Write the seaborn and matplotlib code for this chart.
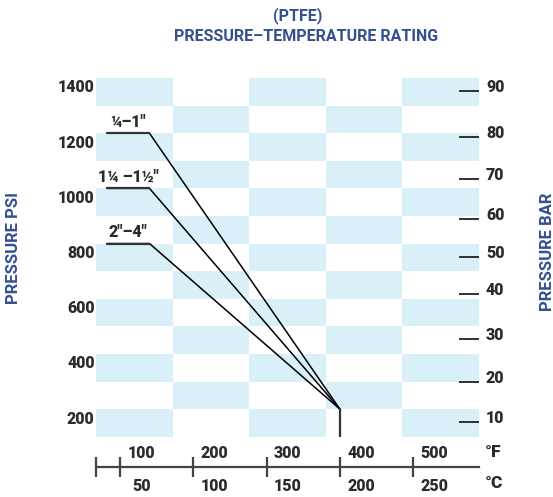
import numpy as np
import pandas as pd
import matplotlib
matplotlib.use('Agg')
import matplotlib.pyplot as plt
import matplotlib.transforms as mtransforms
from matplotlib.colors import ListedColormap
import seaborn as sns

# ratings per valve size, all lines meet at 200 C / 200 psi
sizes = ['\u00bc\u20131\u2033', '1\u00bc \u20131\u00bd\u2033', '2\u2033\u20134\u2033']
rated_psi = [1200, 1000, 800]
flat_temp = [41, 70]   # flat part of each line (C)
end_temp = 200
end_psi = 200

psi_ticks = [200, 400, 600, 800, 1000, 1200, 1400]
bar_labels = ['10', '20', '30', '40', '50', '60', '70', '80', '90']
bar_ticks_psi = [155, 300, 455, 618, 752, 889, 1034, 1187, 1354]
temp_ticks_c = [50, 100, 150, 200, 250]
temp_labels_c = ['50', '100', '150', '200', '250']
temp_labels_f = ['100', '200', '300', '400', '500']

rows = []
for s, p in zip(sizes, rated_psi):
    rows.append({'size': s, 'temp': flat_temp[0], 'psi': p})
    rows.append({'size': s, 'temp': flat_temp[1], 'psi': p})
    rows.append({'size': s, 'temp': end_temp, 'psi': end_psi})
df = pd.DataFrame(rows)

sns.set_style('white')
plt.rcParams['font.family'] = ['Roboto', 'DejaVu Sans']

blue_txt = '#34508f'
dark = '#2b2b2b'
cell = '#d9f0f8'
wt = 'heavy'

fig = plt.figure(figsize=(5.53, 4.97), dpi=100)
ax = fig.add_axes([96 / 553, 1 - 436.7 / 497, 383 / 553, 358.7 / 497])
xmin, xmax = 33.5, 295
ax.set_xlim(xmin, xmax)
ax.set_ylim(100, 1400)

# checkerboard background
xe = np.linspace(xmin, xmax, 6)
ye = np.arange(100, 1401, 100)
Z = np.add.outer(np.arange(13), np.arange(5)) % 2 == 0
ax.pcolormesh(xe, ye, Z.astype(int), cmap=ListedColormap(['white', cell]), zorder=0)

sns.lineplot(data=df, x='temp', y='psi', units='size', estimator=None,
             color='black', lw=1.1, ax=ax, zorder=3, sort=False)
ax.plot([end_temp, end_temp], [100, end_psi], color='#333333', lw=1.6, zorder=3)
for s, p in zip(sizes, rated_psi):
    ax.plot(flat_temp, [p, p], color='#333333', lw=1.6, zorder=4)
    ax.text(np.mean(flat_temp), p + 12, s, ha='center', va='bottom',
            fontsize=11.5, fontweight=wt, color=dark)

for sp in ['top', 'left', 'right']:
    ax.spines[sp].set_visible(False)
ax.spines['bottom'].set_position(('outward', 21.6))
ax.spines['bottom'].set_color('#444444')
ax.spines['bottom'].set_linewidth(1.6)
ax.set_xlabel('')
ax.set_ylabel('')

# temperature scale
ax.set_xticks([xmin] + temp_ticks_c)
ax.set_xticklabels([''] + temp_labels_c, fontsize=11.5, fontweight=wt, color=dark)
ax.tick_params(axis='x', bottom=True, direction='inout', length=13.7, width=1.6,
               color='#444444', pad=1.5)
shift = mtransforms.ScaledTranslation(0.21, 0, fig.dpi_scale_trans)
for lab in ax.get_xticklabels():
    lab.set_transform(lab.get_transform() + shift)
btr = mtransforms.blended_transform_factory(ax.transData, ax.transAxes)
for t, lab in zip(temp_ticks_c, temp_labels_f):
    ax.text(t, 0, lab, ha='center', va='baseline', fontsize=11.5, fontweight=wt, color=dark,
            transform=btr + mtransforms.ScaledTranslation(0.21, -0.213, fig.dpi_scale_trans))
fig.text(485 / 553, 1 - 457 / 497, '\u00b0F', va='baseline', fontsize=12.5, fontweight=wt, color=dark)
fig.text(485 / 553, 1 - 488 / 497, '\u00b0C', va='baseline', fontsize=12.5, fontweight=wt, color=dark)

# psi scale
ax.set_yticks(psi_ticks)
ax.set_yticklabels([str(v) for v in psi_ticks], fontsize=11.5, fontweight=wt, color=dark)
ax.tick_params(axis='y', left=False, length=0, pad=1)
down = mtransforms.ScaledTranslation(0, -0.08, fig.dpi_scale_trans)
for lab in ax.get_yticklabels():
    lab.set_transform(lab.get_transform() + down)

# bar scale
bx = ax.twinx()
bx.set_ylim(ax.get_ylim())
for sp in bx.spines.values():
    sp.set_visible(False)
bx.set_yticks(bar_ticks_psi)
bx.set_yticklabels(bar_labels, fontsize=11.5, fontweight=wt, color=dark)
bx.tick_params(axis='y', right=True, direction='in', length=14.5, width=1.3, color='#222222', pad=5)
up = mtransforms.ScaledTranslation(0, 0.05, fig.dpi_scale_trans)
for lab in bx.get_yticklabels():
    lab.set_transform(lab.get_transform() + up)

fig.text(14 / 553, 1 - 248 / 497, 'PRESSURE PSI', rotation=90, ha='center', va='center',
         fontsize=12, fontweight='bold', color=blue_txt)
fig.text(547 / 553, 1 - 252 / 497, 'PRESSURE BAR', rotation=90, ha='center', va='center',
         fontsize=12, fontweight='bold', color=blue_txt)
fig.text(298 / 553, 1 - 16 / 497, '(PTFE)', ha='center', va='center',
         fontsize=11.5, fontweight='bold', color=blue_txt)
fig.text(306 / 553, 1 - 36.5 / 497, 'PRESSURE\u2013TEMPERATURE RATING', ha='center', va='center',
         fontsize=11.5, fontweight='bold', color=blue_txt)

fig.savefig('out.png', dpi=100)
